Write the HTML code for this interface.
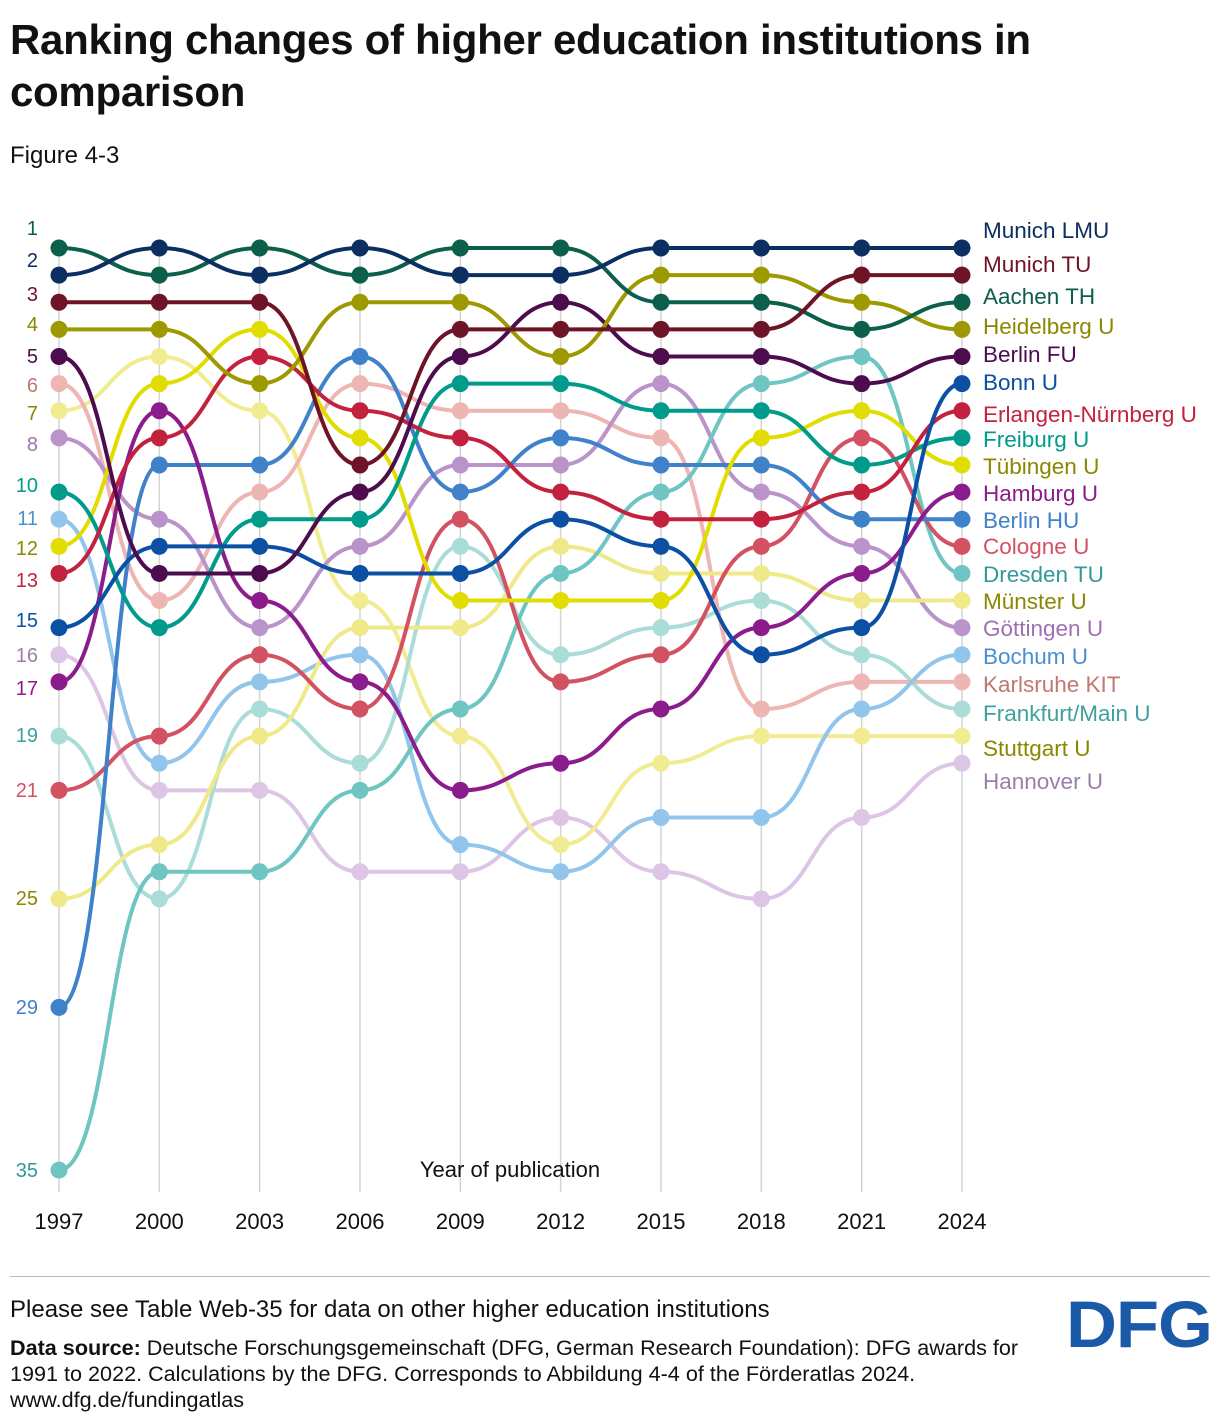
<!DOCTYPE html>
<html><head><meta charset="utf-8">
<style>
body{margin:0;background:#fff;font-family:"Liberation Sans",sans-serif;}
#wrap{position:relative;width:1220px;height:1424px;overflow:hidden;}
h1{position:absolute;left:10px;top:14px;margin:0;font-size:42px;line-height:52px;font-weight:bold;color:#111;width:1200px;letter-spacing:-0.3px;}
.fig{position:absolute;left:10px;top:142px;font-size:24px;color:#111;}
.foot{position:absolute;left:10px;color:#111;line-height:26px;}
.logo{position:absolute;left:1066px;top:1286px;font-size:66px;font-weight:bold;color:#1a5aa8;letter-spacing:-1px;transform:scaleX(1.07);transform-origin:left top;}
</style></head><body>
<div id="wrap">
<h1>Ranking changes of higher education institutions in comparison</h1>
<div class="fig">Figure 4-3</div>
<svg id="chart" width="1220" height="1260" style="position:absolute;left:0;top:0"></svg>
<div style="position:absolute;left:10px;top:1276px;width:1200px;height:1px;background:#bbb"></div>
<div class="foot" style="top:1297px;font-size:24px">Please see Table Web-35 for data on other higher education institutions</div>
<div class="foot" style="top:1335px;font-size:21.6px"><b>Data source:</b> Deutsche Forschungsgemeinschaft (DFG, German Research Foundation): DFG awards for<br>1991 to 2022. Calculations by the DFG. Corresponds to Abbildung 4-4 of the Förderatlas 2024.<br>www.dfg.de/fundingatlas</div>
<div class="logo">DFG</div>
</div>
<script>
const years=[1997,2000,2003,2006,2009,2012,2015,2018,2021,2024];
const names=["Munich LMU","Munich TU","Aachen TH","Heidelberg U","Berlin FU","Bonn U","Erlangen-Nürnberg U","Freiburg U","Tübingen U","Hamburg U","Berlin HU","Cologne U","Dresden TU","Münster U","Göttingen U","Bochum U","Karlsruhe KIT","Frankfurt/Main U","Stuttgart U","Hannover U"];
const rLMU=[2,1,2,1,2,2,1,1,1,1];
const rTU=[3,3,3,9,4,4,4,4,2,2];
const rAachen=[1,2,1,2,1,1,3,3,4,3];
const rHeid=[4,4,6,3,3,5,2,2,3,4];
const rFU=[5,13,13,10,5,3,5,5,6,5];
const rBonn=[15,12,12,13,13,11,12,16,15,6];
const rErl=[13,8,5,7,8,10,11,11,10,7];
const rFrei=[10,15,11,11,6,6,7,7,9,8];
const rTueb=[12,6,4,8,14,14,14,8,7,9];
const rHam=[17,7,14,17,21,20,18,15,13,10];
const rHU=[29,9,9,5,10,8,9,9,11,11];
const rCol=[21,19,16,18,11,17,16,12,8,12];
const rDres=[35,24,24,21,18,13,10,6,5,13];
const rMuen=[25,23,19,15,15,12,13,13,14,14];
const rGoet=[8,11,15,12,9,9,6,10,12,15];
const rBoch=[11,20,17,16,23,24,22,22,18,16];
const rKIT=[6,14,10,6,7,7,8,18,17,17];
const rFra=[19,25,18,20,12,16,15,14,16,18];
const rStu=[7,5,7,14,19,23,20,19,19,19];
const rHan=[16,21,21,24,24,22,24,25,22,20];
const series=[rLMU,rTU,rAachen,rHeid,rFU,rBonn,rErl,rFrei,rTueb,rHam,rHU,rCol,rDres,rMuen,rGoet,rBoch,rKIT,rFra,rStu,rHan];
const colors=["#0b2f60","#6e1426","#0b5f4b","#9c9a00","#4d0c4e","#0b50a2","#c3223e","#009b8b","#e2dd00","#8b1c8c","#3f82c9","#d25262","#6ec5c1","#f0e98a","#ba93ca","#92c5ec","#edb6b2","#aadcd8","#f1ec92","#ddc6e5"];
const textCol=["#0b2f60","#6e1426","#0b5f4b","#8a8800","#4d0c4e","#0b50a2","#c3223e","#009b8b","#8a8800","#8b1c8c","#3f82c9","#d25262","#309a98","#8a8800","#a070b2","#4a90d0","#c07870","#40a0a0","#8a8800","#9a80a8"];
const legendY=[230,264,296,326,354,382,414,439,466,493,520,546,574,601,628,656,684,713,748,781];
const startLabelY={1:228,2:260,3:294,4:324,5:356,6:385,7:413,8:444,10:485,11:518,12:548,13:580,15:620,16:655,17:688,19:735,21:790,25:898,29:1007,35:1170};
const x=y=>59+(y-1997)/3*100.33;
const yS=r=>248+(r-1)*27.12;
const svg=document.getElementById('chart');
const NS="http://www.w3.org/2000/svg";
function mk(t,a){const e=document.createElementNS(NS,t);for(const k in a)e.setAttribute(k,a[k]);svg.appendChild(e);return e;}
years.forEach(yr=>{
  const l=mk('line',{x1:x(yr),x2:x(yr),y1:248,y2:1192,stroke:'#d4d4d4','stroke-width':1.5});
  
  
  const t=mk('text',{x:x(yr),y:1229,'text-anchor':'middle','font-size':22,fill:'#111'});
  t.textContent=yr;
  
  
});
const at=mk('text',{x:510,y:1177,'text-anchor':'middle','font-size':22,fill:'#111'});
at.textContent='Year of publication';


for(let i=series.length-1;i>=0;i--){
  const s=series[i];
  let d='M'+x(years[0])+','+yS(s[0]);
  for(let j=1;j<s.length;j++){const x0=x(years[j-1]),x1=x(years[j]),m=(x0+x1)/2;
    d+=' C'+m+','+yS(s[j-1])+' '+m+','+yS(s[j])+' '+x1+','+yS(s[j]);}
  const p=mk('path',{d:d,fill:'none',stroke:colors[i],'stroke-width':4});
  
  
  s.forEach((r,j)=>{
    const c=mk('circle',{cx:x(years[j]),cy:yS(r),r:8.5,fill:colors[i]});
    
    
  });
  const t=mk('text',{x:983,y:legendY[i]+8,'font-size':22.5,fill:textCol[i]});
  t.textContent=names[i];
  
  
  const ly=startLabelY[s[0]]!==undefined?startLabelY[s[0]]:yS(s[0]);
  const lt=mk('text',{x:38,y:ly+7,'text-anchor':'end','font-size':20,fill:textCol[i]});
  lt.textContent=s[0];
  
  
}
</script>
</body></html>
